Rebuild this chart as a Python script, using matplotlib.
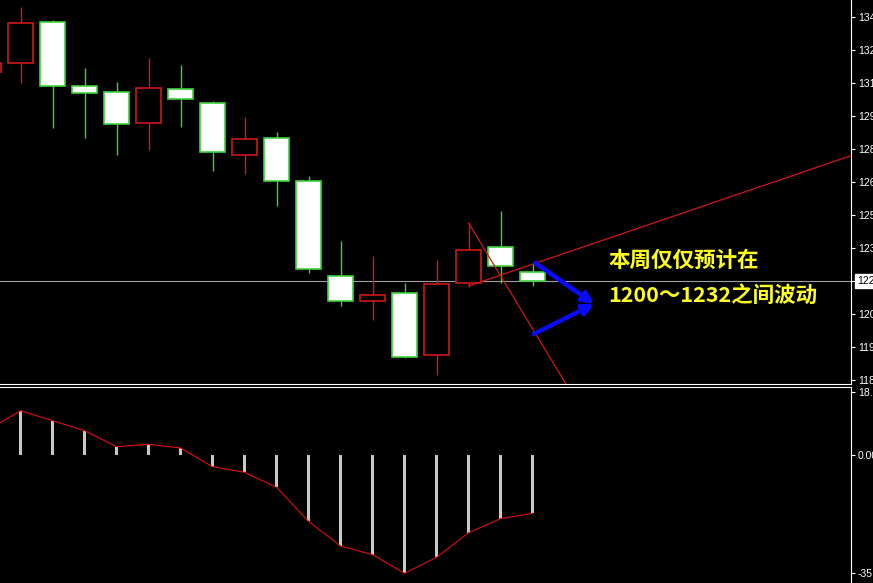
import matplotlib
matplotlib.use("Agg")
import matplotlib.pyplot as plt
import matplotlib.transforms as mtransforms
from matplotlib.patches import Rectangle
import numpy as np

plt.rcParams['font.family'] = ['Noto Sans CJK SC', 'DejaVu Sans']

# weekly candles, oldest first (first one is only a sliver at the left edge)
opens = [1315.8, 1319.7, 1337.8, 1309.6, 1306.9, 1293.3, 1308.3, 1302.1, 1279.2,
         1286.7, 1267.7, 1225.8, 1214.8, 1218.3, 1191.0, 1222.7, 1238.6, 1227.6]
highs = [1322.0, 1344.4, 1338.7, 1317.5, 1311.3, 1321.9, 1318.8, 1303.0, 1295.9,
         1289.3, 1269.9, 1241.3, 1234.6, 1222.7, 1232.9, 1249.2, 1254.5, 1231.6]
lows = [1312.0, 1310.9, 1291.1, 1286.7, 1279.2, 1281.4, 1291.5, 1272.1, 1270.8,
        1256.7, 1227.2, 1212.6, 1206.4, 1189.7, 1182.2, 1221.0, 1222.7, 1221.4]
closes = [1319.7, 1337.4, 1309.6, 1306.5, 1292.8, 1308.7, 1303.9, 1280.5, 1286.2,
          1267.7, 1228.9, 1214.8, 1217.5, 1190.1, 1222.3, 1237.3, 1230.2, 1223.6]

# lower indicator panel
macd = [7.6, 13.3, 10.3, 7.3, 2.5, 3.2, 2.1, -3.5, -5.2, -9.7, -19.9, -27.3,
        -29.9, -35.5, -30.7, -23.3, -19.1, -17.5]

price_ticks = [1340.0, 1325.5, 1310.9, 1296.4, 1281.8, 1267.3, 1252.7, 1238.2,
               1223.6, 1209.1, 1194.5, 1180.0]
price_labels = ["1340.0", "1325.5", "1310.9", "1296.4", "1281.8", "1267.3",
                "1252.7", "1238.2", "", "1209.1", "1194.5", "1180.0"]
last_price = 1223.6
macd_ticks = [18.9, 0.0, -35.5]
macd_labels = ["18.90", "0.00", "-35.52"]

# hand-drawn trend lines and arrows (bar index, price)
down_line = ([15.0, 18.6], [1249.2, 1165.2])
up_line = ([15.0, 27.0], [1221.4, 1279.1])
arrow_tip = (18.92, 1213.5)
arrow_tails = [(17.08, 1231.6), (17.05, 1200.3)]

RED = '#d01818'
GREEN = '#3ad23a'
W, H = 873, 583


def main():
    fig = plt.figure(figsize=(W / 100, H / 100), dpi=100, facecolor='black')
    ax = fig.add_axes([0, 1 - 384 / H, 851 / W, 384 / H], facecolor='black')
    ax2 = fig.add_axes([0, 0, 851 / W, (H - 387) / H], facecolor='black', sharex=ax)

    xs = np.arange(len(opens))
    body_w = 0.78
    for i in xs:
        o, h, l, c = opens[i], highs[i], lows[i], closes[i]
        up = c >= o
        col = RED if up else GREEN
        fill = 'black' if up else 'white'
        ax.vlines(i, l, h, color=col, lw=1.0, zorder=2)
        ax.add_patch(Rectangle((i - body_w / 2, min(o, c)), body_w, abs(c - o),
                               facecolor=fill, edgecolor=col, lw=1.2, zorder=3))

    ax.axhline(last_price, color='#a0a0a0', lw=0.8, zorder=1)

    ax.plot(*down_line, color=RED, lw=0.9, zorder=4)
    ax.plot(*up_line, color=RED, lw=0.9, zorder=4)
    for tail in arrow_tails:
        ax.annotate('', xy=arrow_tip, xytext=tail,
                    arrowprops=dict(arrowstyle='-|>', color='#0a0aff', lw=3.2,
                                    mutation_scale=16, shrinkA=0, shrinkB=0),
                    zorder=5)

    ax.text(19.36, 1232.9, "本周仅仅预计在", color='#ffff20', fontsize=15.5,
            fontweight='bold', va='center', ha='left')
    ax.text(19.36, 1217.0, "1200～1232之间波动", color='#ffff20', fontsize=15.5,
            fontweight='bold', va='center', ha='left')

    ax.set_xlim(0.359, 26.95)
    ax.set_ylim(1178.2, 1347.5)

    ax2.bar(xs, macd, width=0.12, color='#c8c8c8', zorder=2)
    ax2.plot(xs, macd, color='#e01010', lw=0.8, zorder=3)
    ax2.set_ylim(-38.4, 20.4)

    for a in (ax, ax2):
        for s in a.spines.values():
            s.set_visible(False)
        a.spines['right'].set_visible(True)
        a.spines['right'].set_color('white')
        a.yaxis.tick_right()
        a.tick_params(axis='y', colors='white', length=3, width=0.8, pad=2,
                      labelsize=7.5)
        a.tick_params(axis='x', bottom=False, labelbottom=False)
    ax.spines['bottom'].set_visible(True)
    ax.spines['bottom'].set_color('white')
    ax2.spines['top'].set_visible(True)
    ax2.spines['top'].set_color('white')

    ax.set_yticks(price_ticks, price_labels, family='Liberation Sans')
    ax2.set_yticks(macd_ticks, macd_labels, family='Liberation Sans')

    trans = mtransforms.blended_transform_factory(ax.transAxes, ax.transData)
    ax.text(1.0 + 6 / 851, last_price, "1223.6", transform=trans, fontsize=7.5,
            family='Liberation Sans', color='black', va='center', ha='left',
            bbox=dict(facecolor='white', edgecolor='white', pad=1.5))

    fig.savefig('out.png', dpi=100, facecolor='black')


if __name__ == "__main__":
    main()
